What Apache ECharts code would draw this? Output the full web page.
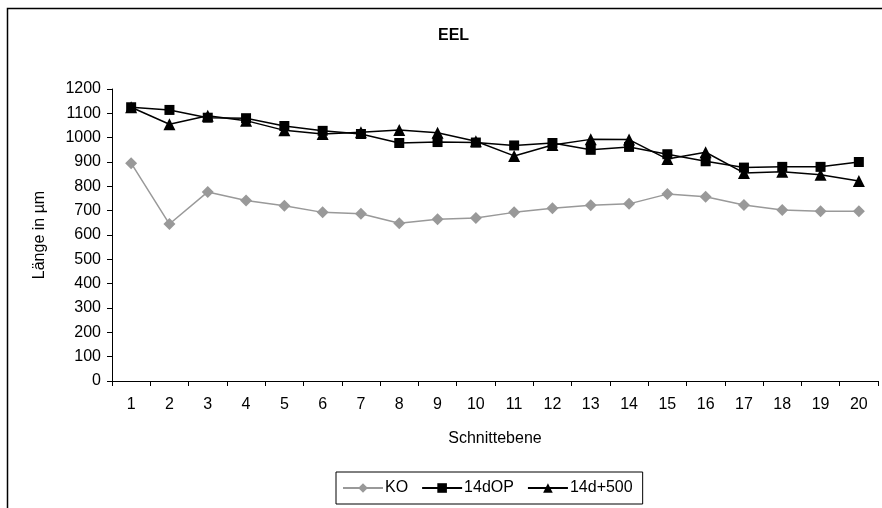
<!DOCTYPE html>
<html>
<head>
<meta charset="utf-8">
<script src="https://cdn.jsdelivr.net/npm/echarts@6/dist/echarts.min.js"></script>
<style>
  html, body { margin: 0; padding: 0; background: #fff; }
  #main { width: 882px; height: 508px; }
</style>
</head>
<body>
<div id="main"></div>
<script>
// Schnittebene 1..20
var categories = ['1', '2', '3', '4', '5', '6', '7', '8', '9', '10',
    '11', '12', '13', '14', '15', '16', '17', '18', '19', '20'];

var ko = [895, 645, 777, 742, 720, 693, 687, 648, 665, 670,
    693, 710, 722, 728, 768, 757, 723, 703, 698, 698];

var op14d = [1125, 1114, 1082, 1080, 1048, 1028, 1015, 978, 982, 980,
    968, 978, 950, 962, 932, 903, 877, 880, 880, 900];

var plus500 = [1125, 1055, 1090, 1070, 1030, 1015, 1022, 1032, 1020, 985,
    925, 970, 993, 992, 912, 940, 855, 860, 848, 822];

var font = 'Liberation Sans, Arial, sans-serif';

var chart = echarts.init(document.getElementById('main'));

var option = {
    animation: false,
    backgroundColor: '#fff',
    graphic: [{
        type: 'rect',
        shape: { x: 7.5, y: 8.5, width: 900, height: 520 },
        style: { fill: 'none', stroke: '#000', lineWidth: 1.5 },
        z: 0
    }],
    title: {
        text: 'EEL',
        left: 433,
        top: 23,
        textStyle: { fontFamily: font, fontSize: 16, fontWeight: 'bold', color: '#000' }
    },
    legend: {
        left: 336,
        top: 472,
        padding: [8, 10, 8, 6],
        itemGap: 13,
        itemWidth: 40,
        itemHeight: 12,
        borderColor: '#000',
        borderWidth: 1,
        textStyle: { fontFamily: font, fontSize: 16, color: '#000', padding: [0, 0, 0, -3] },
        data: ['KO', '14dOP', '14d+500']
    },
    grid: {
        left: 112,
        right: 4,
        top: 89,
        bottom: 127
    },
    xAxis: {
        type: 'category',
        data: categories,
        boundaryGap: true,
        name: 'Schnittebene',
        nameLocation: 'middle',
        nameGap: 50,
        nameTextStyle: { fontFamily: font, fontSize: 16, color: '#000' },
        axisLine: { lineStyle: { color: '#000', width: 1 } },
        axisTick: { show: true, length: 5, lineStyle: { color: '#000' } },
        axisLabel: { fontFamily: font, fontSize: 16, color: '#000', margin: 16 },
        splitLine: { show: false }
    },
    yAxis: {
        type: 'value',
        min: 0,
        max: 1200,
        interval: 100,
        name: 'Länge in µm',
        nameLocation: 'middle',
        nameGap: 64,
        nameTextStyle: { fontFamily: font, fontSize: 16, color: '#000' },
        axisLine: { show: true, lineStyle: { color: '#000', width: 1 } },
        axisTick: { show: true, length: 5, lineStyle: { color: '#000' } },
        axisLabel: {
            fontFamily: font, fontSize: 16, color: '#000', margin: 11,
            formatter: function (v) { return String(v); }
        },
        splitLine: { show: false }
    },
    series: [{
        name: 'KO',
        type: 'line',
        data: ko,
        symbol: 'diamond',
        symbolSize: 12,
        itemStyle: { color: '#999999' },
        lineStyle: { color: '#999999', width: 1.5 }
    }, {
        name: '14dOP',
        type: 'line',
        data: op14d,
        symbol: 'rect',
        symbolSize: 10,
        itemStyle: { color: '#000' },
        lineStyle: { color: '#000', width: 1.5 }
    }, {
        name: '14d+500',
        type: 'line',
        data: plus500,
        symbol: 'triangle',
        symbolSize: 12,
        itemStyle: { color: '#000' },
        lineStyle: { color: '#000', width: 1.5 }
    }]
};

chart.setOption(option);
</script>
</body>
</html>
